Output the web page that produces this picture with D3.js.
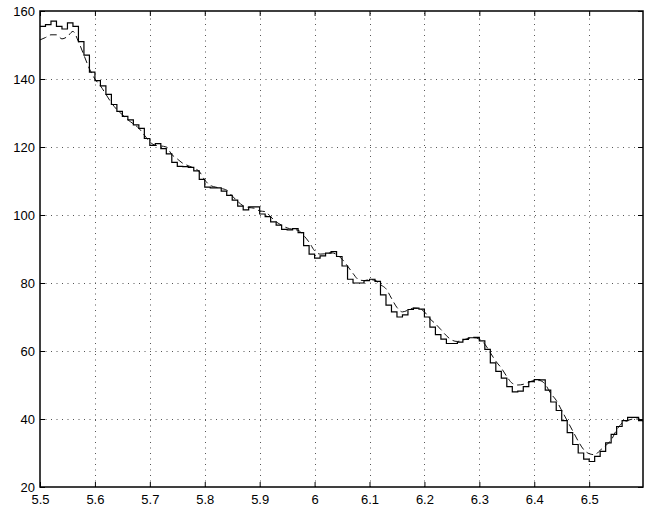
<!DOCTYPE html>
<html>
<head>
<meta charset="utf-8">
<script src="https://cdn.jsdelivr.net/npm/d3@7"></script>
<style>
  body { margin: 0; background: #fff; }
  svg { display: block; }
</style>
</head>
<body>
<script>
// sample positions (x)
const xs = [5.50, 5.51, 5.52, 5.53, 5.54, 5.55, 5.56, 5.57, 5.58, 5.59,
  5.60, 5.61, 5.62, 5.63, 5.64, 5.65, 5.66, 5.67, 5.68, 5.69,
  5.70, 5.71, 5.72, 5.73, 5.74, 5.75, 5.76, 5.77, 5.78, 5.79,
  5.80, 5.81, 5.82, 5.83, 5.84, 5.85, 5.86, 5.87, 5.88, 5.89,
  5.90, 5.91, 5.92, 5.93, 5.94, 5.95, 5.96, 5.97, 5.98, 5.99,
  6.00, 6.01, 6.02, 6.03, 6.04, 6.05, 6.06, 6.07, 6.08, 6.09,
  6.10, 6.11, 6.12, 6.13, 6.14, 6.15, 6.16, 6.17, 6.18, 6.19,
  6.20, 6.21, 6.22, 6.23, 6.24, 6.25, 6.26, 6.27, 6.28, 6.29,
  6.30, 6.31, 6.32, 6.33, 6.34, 6.35, 6.36, 6.37, 6.38, 6.39,
  6.40, 6.41, 6.42, 6.43, 6.44, 6.45, 6.46, 6.47, 6.48, 6.49,
  6.50, 6.51, 6.52, 6.53, 6.54, 6.55, 6.56, 6.57, 6.58, 6.59, 6.60]

// solid staircase (measured)
const measured = [155.5, 156, 157, 155.5, 154.7, 156.5, 155.5, 151, 147, 142,
  139.5, 138, 135.5, 132.5, 130.5, 129, 128, 126.5, 125.5, 122.5,
  120.5, 121, 119.5, 118, 115.5, 114.3, 114.2, 114, 113, 110.5,
  108.2, 108, 108, 107, 105.8, 104.4, 102.6, 101.5, 102.4, 102.4,
  100.3, 99.5, 98, 97, 95.8, 95.6, 96, 94.8, 91, 88.5,
  87.3, 88, 88.8, 89.2, 87.8, 85, 81.1, 80, 80, 80.7,
  81.1, 80.5, 76.5, 73.5, 71.5, 70, 70.6, 72.2, 72.6, 72.3,
  70, 67, 64.8, 63.5, 62.2, 62.2, 62.6, 63.4, 63.9, 64,
  63, 60.5, 56.5, 54, 52, 49.5, 48, 48.2, 49.5, 51,
  51.6, 51.5, 48.5, 45, 42.5, 39.5, 36, 32.5, 30, 28.2,
  27.5, 29, 30.5, 33, 35.5, 37.8, 39.5, 40.5, 40.5, 39.5, 37]

// dashed smooth curve (estimate)
const estimate = [151.5, 152.2, 153, 153, 151.8, 152.5, 154, 151, 147, 143,
  140, 138, 135.5, 133, 131, 129.5, 128, 126.8, 125.5, 123.5,
  121.5, 120.5, 120.3, 120, 117.8, 116.5, 115.2, 114.5, 113.8, 112.8,
  110.3, 108.7, 108.2, 107.8, 107.3, 105.6, 104, 102.7, 102.2, 102,
  101.2, 101, 99.5, 98, 97, 96.2, 95.8, 95.5, 94, 92,
  89.5, 88.5, 88.6, 88.9, 88.4, 87, 85, 82.8, 81, 80.7,
  81, 80.8, 79.5, 78.3, 75.5, 72.8, 71.5, 72, 72.6, 72.5,
  71.5, 69.5, 68, 66.3, 64.5, 63.2, 62.8, 63.2, 63.7, 63.9,
  63.5, 62, 59.5, 57, 55, 52.5, 50.5, 50, 50.2, 50.8,
  51.3, 51.3, 50.2, 47.5, 45.5, 42.5, 39.5, 36.5, 33.5, 31,
  29.8, 29.5, 30.8, 32.2, 33.8, 36.8, 38.8, 39.5, 40, 40, 39]

const xTicks = [5.5, 5.6, 5.7, 5.8, 5.9, 6, 6.1, 6.2, 6.3, 6.4, 6.5]
const yTicks = [20, 40, 60, 80, 100, 120, 140, 160]

const width = 650
const height = 506
const margin = { top: 11, right: 7, bottom: 19, left: 40 }
const tickLen = 5

const svg = d3.select('body').append('svg')
  .attr('width', width)
  .attr('height', height)
  .style('font-family', '"Liberation Sans", Arial, sans-serif')

const x = d3.scaleLinear().domain([5.5, 6.598]).range([margin.left, width - margin.right])
const y = d3.scaleLinear().domain([20, 160]).range([height - margin.bottom, margin.top])

const [x0, x1] = x.range()
const [y0, y1] = y.range()

// dotted grid
const grid = svg.append('g')
  .attr('stroke', '#555')
  .attr('stroke-width', 1)
  .attr('stroke-dasharray', '1,4.5')
grid.selectAll('.gx')
  .data(xTicks.slice(1))
  .enter().append('line')
  .attr('x1', d => Math.round(x(d)) + 0.5).attr('x2', d => Math.round(x(d)) + 0.5)
  .attr('y1', y0).attr('y2', y1)
grid.selectAll('.gy')
  .data(yTicks.slice(1, -1))
  .enter().append('line')
  .attr('y1', d => Math.round(y(d)) + 0.5).attr('y2', d => Math.round(y(d)) + 0.5)
  .attr('x1', x0).attr('x2', x1)

svg.append('clipPath').attr('id', 'clip')
  .append('rect')
  .attr('x', x0).attr('y', y1)
  .attr('width', x1 - x0).attr('height', y0 - y1)

const rows = xs.map((v, i) => ({ x: v, m: measured[i], e: estimate[i] }))

const plot = svg.append('g').attr('clip-path', 'url(#clip)')

plot.append('path')
  .datum(rows)
  .attr('fill', 'none')
  .attr('stroke', '#111')
  .attr('stroke-width', 1)
  .attr('stroke-dasharray', '7,4')
  .attr('d', d3.line().x(d => x(d.x)).y(d => y(d.e)).curve(d3.curveMonotoneX))

plot.append('path')
  .datum(rows)
  .attr('fill', 'none')
  .attr('stroke', '#000')
  .attr('stroke-width', 1.2)
  .attr('d', d3.line().x(d => x(d.x)).y(d => y(d.m)).curve(d3.curveStepAfter))

// axes with inward ticks on all four sides
const fmt = d => d3.format('')(d)

svg.append('g')
  .attr('transform', `translate(0,${y0})`)
  .call(d3.axisBottom(x).tickValues(xTicks).tickFormat(fmt).tickSizeInner(-tickLen).tickSizeOuter(0).tickPadding(8))
svg.append('g')
  .attr('transform', `translate(0,${y1})`)
  .call(d3.axisTop(x).tickValues(xTicks).tickFormat('').tickSizeInner(-tickLen).tickSizeOuter(0))
svg.append('g')
  .attr('transform', `translate(${x0},0)`)
  .call(d3.axisLeft(y).tickValues(yTicks).tickFormat(fmt).tickSizeInner(-tickLen).tickSizeOuter(0).tickPadding(5))
svg.append('g')
  .attr('transform', `translate(${x1},0)`)
  .call(d3.axisRight(y).tickValues(yTicks).tickFormat('').tickSizeInner(-tickLen).tickSizeOuter(0))

svg.selectAll('.domain').remove()
svg.selectAll('.tick line').attr('stroke', '#000').attr('stroke-width', 1)
svg.selectAll('.tick text')
  .attr('fill', '#000')
  .style('font-size', '13px')
  .style('font-family', '"Liberation Sans", Arial, sans-serif')

// frame
svg.append('rect')
  .attr('x', x0).attr('y', y1)
  .attr('width', x1 - x0).attr('height', y0 - y1)
  .attr('fill', 'none')
  .attr('stroke', '#000')
  .attr('stroke-width', 1.5)
</script>
</body>
</html>
